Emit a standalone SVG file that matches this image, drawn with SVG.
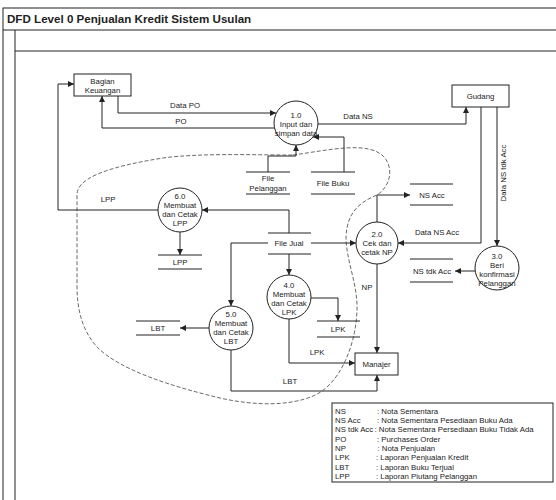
<svg xmlns="http://www.w3.org/2000/svg" width="556" height="500" viewBox="0 0 556 500">
<style>
  .frame{fill:none;stroke:#222;stroke-width:1}
  .box{fill:#fff;stroke:#222;stroke-width:1}
  .proc{fill:#fff;stroke:#222;stroke-width:1}
  .store{stroke:#222;stroke-width:1}
  .line{fill:none;stroke:#222;stroke-width:1}
  .bound{fill:none;stroke:#444;stroke-width:0.8;stroke-dasharray:4 2}
  text{font-family:"Liberation Sans",Arial,sans-serif;fill:#222}
  .t{font-size:7.8px;text-anchor:middle}
  .lab{font-size:7.8px;text-anchor:middle}
  .leg{font-size:7.8px}
  .title{font-size:11.6px;font-weight:bold}
</style>
<defs>
  <marker id="arr" markerUnits="userSpaceOnUse" markerWidth="7" markerHeight="6" refX="6" refY="3" orient="auto">
    <path d="M0,0 L6,3 L0,6 Z" fill="#222"/>
  </marker>
</defs>
<rect width="556" height="500" fill="#fff"/>
<g id="frame">
  <rect class="frame" x="3" y="8" width="560" height="500"/>
  <line class="frame" x1="3" y1="30" x2="556" y2="30"/>
  <line class="frame" x1="15" y1="30" x2="15" y2="500"/>
  <line class="frame" x1="15" y1="51" x2="556" y2="51"/>
  <text class="title" x="7" y="23">DFD Level 0 Penjualan Kredit Sistem Usulan</text>
</g>
<g id="boundary">
  <path class="bound" d="M293 155 C330 150 370 140 385 158 C395 172 388 188 377 195 C360 202 347 212 346 237 C346 260 358 285 357 310 C356 345 340 385 313 396 C290 406 255 406 220 398 C170 386 120 370 97 347 C82 330 77 310 77 285 L77 195 C77 180 100 168 163 158 C200 153 250 155 293 155 Z"/>
</g>
<g id="connectors">
  <polyline class="line" points="118,96 118,113 276,113" marker-end="url(#arr)"/>
  <polyline class="line" points="275,128 102,128 102,96" marker-end="url(#arr)"/>
  <polyline class="line" points="318,124 466,124 466,107" marker-end="url(#arr)"/>
  <polyline class="line" points="268,172 268,156 296,156 296,145" marker-end="url(#arr)"/>
  <polyline class="line" points="344,172 344,137 313,137" marker-end="url(#arr)"/>
  <polyline class="line" points="158,210 58,210 58,84 74,84" marker-end="url(#arr)"/>
  <polyline class="line" points="289,233 289,210 202,210" marker-end="url(#arr)"/>
  <line class="line" x1="180" y1="232" x2="180" y2="255" marker-end="url(#arr)"/>
  <line class="line" x1="311" y1="243" x2="356" y2="243" marker-end="url(#arr)"/>
  <polyline class="line" points="377,222 377,195 410,195" marker-end="url(#arr)"/>
  <polyline class="line" points="481,107 481,243 398,243" marker-end="url(#arr)"/>
  <line class="line" x1="497" y1="107" x2="497" y2="246" marker-end="url(#arr)"/>
  <line class="line" x1="475" y1="271" x2="455" y2="271" marker-end="url(#arr)"/>
  <line class="line" x1="289" y1="254" x2="289" y2="275" marker-end="url(#arr)"/>
  <polyline class="line" points="268,243 231,243 231,306" marker-end="url(#arr)"/>
  <polyline class="line" points="311,298 338,298 338,321" marker-end="url(#arr)"/>
  <polyline class="line" points="289,319 289,363 355,363" marker-end="url(#arr)"/>
  <line class="line" x1="377" y1="264" x2="377" y2="353" marker-end="url(#arr)"/>
  <line class="line" x1="209" y1="328" x2="180" y2="328" marker-end="url(#arr)"/>
  <polyline class="line" points="231,350 231,391 377,391 377,375" marker-end="url(#arr)"/>
  <text class="lab" x="185" y="107.5">Data PO</text>
  <text class="lab" x="181" y="123.5">PO</text>
  <text class="lab" x="358" y="118.5">Data NS</text>
  <text class="lab" x="108" y="201.5">LPP</text>
  <text class="lab" x="437" y="234.5">Data NS Acc</text>
  <text class="lab" x="367" y="289.5">NP</text>
  <text class="lab" x="317" y="354.5">LPK</text>
  <text class="lab" x="290" y="383.5">LBT</text>
  <text class="lab" transform="translate(505.5,173) rotate(-90)">Data NS tdk Acc</text>
</g>
<g id="bagian-keuangan">
  <rect class="box" x="74" y="74" width="57" height="22"/>
  <text class="t" x="102.5" y="83.5">Bagian</text>
  <text class="t" x="102.5" y="93">Keuangan</text>
</g>
<g id="gudang">
  <rect class="box" x="452" y="85" width="57" height="22"/>
  <text class="t" x="480.5" y="98.5">Gudang</text>
</g>
<g id="manajer">
  <rect class="box" x="355" y="353" width="43" height="22"/>
  <text class="t" x="376.5" y="366.5">Manajer</text>
</g>
<g id="p1">
  <circle class="proc" cx="296" cy="123" r="22"/>
  <text class="t" x="296" y="118">1.0</text>
  <text class="t" x="296" y="127">Input dan</text>
  <text class="t" x="296" y="136">simpan data</text>
</g>
<g id="p2">
  <circle class="proc" cx="377" cy="243" r="21"/>
  <text class="t" x="377" y="237">2.0</text>
  <text class="t" x="377" y="246">Cek dan</text>
  <text class="t" x="377" y="255">cetak NP</text>
</g>
<g id="p3">
  <circle class="proc" cx="497" cy="268" r="22"/>
  <text class="t" x="497" y="258.5">3.0</text>
  <text class="t" x="497" y="267.5">Beri</text>
  <text class="t" x="497" y="276.5">konfirmasi</text>
  <text class="t" x="497" y="285.5">Pelanggan</text>
</g>
<g id="p4">
  <circle class="proc" cx="289" cy="297" r="22"/>
  <text class="t" x="289" y="287.5">4.0</text>
  <text class="t" x="289" y="296.5">Membuat</text>
  <text class="t" x="289" y="305.5">dan Cetak</text>
  <text class="t" x="289" y="314.5">LPK</text>
</g>
<g id="p5">
  <circle class="proc" cx="231" cy="328" r="22"/>
  <text class="t" x="231" y="317">5.0</text>
  <text class="t" x="231" y="326">Membuat</text>
  <text class="t" x="231" y="335">dan Cetak</text>
  <text class="t" x="231" y="344">LBT</text>
</g>
<g id="p6">
  <circle class="proc" cx="180" cy="210" r="22"/>
  <text class="t" x="180" y="199">6.0</text>
  <text class="t" x="180" y="208">Membuat</text>
  <text class="t" x="180" y="217">dan Cetak</text>
  <text class="t" x="180" y="226">LPP</text>
</g>
<g id="store-file-pelanggan">
  <line class="store" x1="246" y1="172" x2="290" y2="172"/>
  <line class="store" x1="246" y1="194" x2="290" y2="194"/>
  <text class="t" x="268" y="181">File</text>
  <text class="t" x="268" y="190.5">Pelanggan</text>
</g>
<g id="store-file-buku">
  <line class="store" x1="311" y1="172" x2="355" y2="172"/>
  <line class="store" x1="311" y1="194" x2="355" y2="194"/>
  <text class="t" x="333" y="186">File Buku</text>
</g>
<g id="store-file-jual">
  <line class="store" x1="268" y1="233" x2="311" y2="233"/>
  <line class="store" x1="268" y1="254" x2="311" y2="254"/>
  <text class="t" x="289" y="246">File Jual</text>
</g>
<g id="store-ns-acc">
  <line class="store" x1="410" y1="184" x2="453" y2="184"/>
  <line class="store" x1="410" y1="205" x2="453" y2="205"/>
  <text class="t" x="432" y="197.5">NS Acc</text>
</g>
<g id="store-ns-tdk-acc">
  <line class="store" x1="410" y1="259" x2="453" y2="259"/>
  <line class="store" x1="410" y1="282" x2="453" y2="282"/>
  <text class="t" x="432" y="273.5">NS tdk Acc</text>
</g>
<g id="store-lpp">
  <line class="store" x1="158" y1="255" x2="202" y2="255"/>
  <line class="store" x1="158" y1="269" x2="202" y2="269"/>
  <text class="t" x="180" y="264.5">LPP</text>
</g>
<g id="store-lpk">
  <line class="store" x1="317" y1="321" x2="360" y2="321"/>
  <line class="store" x1="317" y1="337" x2="360" y2="337"/>
  <text class="t" x="338" y="331.5">LPK</text>
</g>
<g id="store-lbt">
  <line class="store" x1="136" y1="321" x2="180" y2="321"/>
  <line class="store" x1="136" y1="335" x2="180" y2="335"/>
  <text class="t" x="158" y="330.5">LBT</text>
</g>
<g id="legend">
  <rect class="box" x="332" y="403" width="221" height="79"/>
  <text class="leg" x="335" y="413.8">NS</text><text class="leg" x="377" y="413.8">: Nota Sementara</text>
  <text class="leg" x="335" y="423.1">NS Acc</text><text class="leg" x="377" y="423.1">: Nota Sementara Pesediaan Buku Ada</text>
  <text class="leg" x="335" y="432.4">NS tdk Acc</text><text class="leg" x="374.5" y="432.4">: Nota Sementara Persediaan Buku Tidak Ada</text>
  <text class="leg" x="335" y="441.7">PO</text><text class="leg" x="377" y="441.7">: Purchases Order</text>
  <text class="leg" x="335" y="451">NP</text><text class="leg" x="377.5" y="451">: Nota Penjualan</text>
  <text class="leg" x="335" y="460.3">LPK</text><text class="leg" x="376" y="460.3">: Laporan Penjualan Kredit</text>
  <text class="leg" x="335" y="469.6">LBT</text><text class="leg" x="376" y="469.6">: Laporan Buku Terjual</text>
  <text class="leg" x="335" y="478.9">LPP</text><text class="leg" x="376" y="478.9">: Laporan Piutang Pelanggan</text>
</g>
</svg>
